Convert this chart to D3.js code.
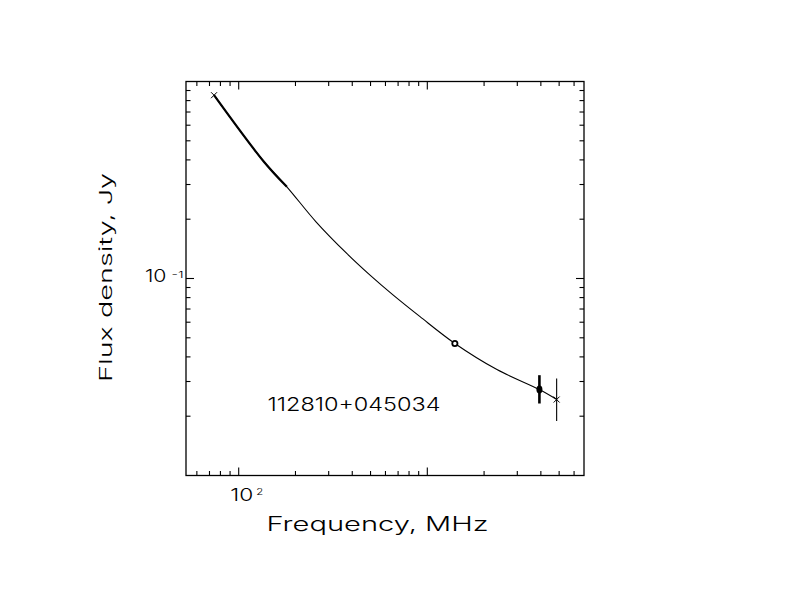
<!DOCTYPE html>
<html>
<head>
<meta charset="utf-8">
<script src="https://cdn.jsdelivr.net/npm/d3@7"></script>
<style>
  html, body { margin: 0; padding: 0; background: #fff; }
  text { font-family: "Inter", "DejaVu Sans", sans-serif; font-weight: 300; fill: #000; }
</style>
</head>
<body>
<svg id="chart" width="792" height="612"></svg>
<script>
// ---- data ----
const sourceName = "112810+045034";
const xLabel = "Frequency, MHz";
const yLabel = "Flux density, Jy";

// fitted spectrum curve, sampled along the drawn line
const curveFreq = [74, 135, 180, 257, 374, 497, 660, 915, 1400, 2340, 3930, 4850];
const curveFlux = [0.852, 0.395, 0.292, 0.194, 0.134, 0.104, 0.0823, 0.064, 0.0468, 0.0345, 0.0273, 0.0243];
// heavier part of the curve (low-frequency end)
const heavyMaxFreq = 180;

// measured points
const ptFreq = [74, 1400, 3930, 4850];
const ptFlux = [0.852, 0.0468, 0.0273, 0.0243];
const ptLo = [null, null, 0.0232, 0.0189];
const ptHi = [null, null, 0.0323, 0.0311];
const ptSymbol = ["cross", "ring", "filled", "cross"];

// ticks
const xMinorTicks = [60, 70, 80, 90, 200, 300, 400, 500, 600, 700, 800, 900, 2000, 3000, 4000, 5000, 6000];
const xMajorTicks = [100, 1000];
const xTickLabels = [{ v: 100, base: "10", exp: "2" }];
const yMinorTicks = [0.02, 0.03, 0.04, 0.05, 0.06, 0.07, 0.08, 0.09, 0.2, 0.3, 0.4, 0.5, 0.6, 0.7, 0.8, 0.9];
const yMajorTicks = [0.1];
const yTickLabels = [{ v: 0.1, base: "10", exp: "-1" }];

// ---- layout ----
const L = 186, R = 584, T = 81.5, B = 475.5;
const svg = d3.select("#chart");

const x = d3.scaleLog().domain([52.55, 6773]).range([L, R]);
const y = d3.scaleLog().domain([0.01, 1]).range([B, T]);

// frame
svg.append("rect").attr("x", L).attr("y", T).attr("width", R - L).attr("height", B - T)
  .attr("fill", "none").attr("stroke", "#000").attr("stroke-width", 1.3);

const majLen = 8, minLen = 4.5;
const tickG = svg.append("g").attr("stroke", "#000").attr("stroke-width", 1.1);
function xTicks(vals, len) {
  vals.forEach(v => {
    const px = x(v);
    tickG.append("line").attr("x1", px).attr("x2", px).attr("y1", B).attr("y2", B - len);
    tickG.append("line").attr("x1", px).attr("x2", px).attr("y1", T).attr("y2", T + len);
  });
}
function yTicks(vals, len) {
  vals.forEach(v => {
    const py = y(v);
    tickG.append("line").attr("x1", L).attr("x2", L + len).attr("y1", py).attr("y2", py);
    tickG.append("line").attr("x1", R).attr("x2", R - len).attr("y1", py).attr("y2", py);
  });
}
xTicks(xMinorTicks, minLen); xTicks(xMajorTicks, majLen);
yTicks(yMinorTicks, minLen); yTicks(yMajorTicks, majLen);

// tick labels
xTickLabels.forEach(d => {
  const px = x(d.v);
  svg.append("text").attr("x", px - 8.5).attr("y", 500.5).attr("font-size", 17)
    .attr("textLength", 23).attr("lengthAdjust", "spacingAndGlyphs").text(d.base);
  svg.append("text").attr("x", px + 17.5).attr("y", 494.5).attr("font-size", 9.5)
    .attr("textLength", 7).attr("lengthAdjust", "spacingAndGlyphs").text(d.exp);
});
yTickLabels.forEach(d => {
  const py = y(d.v);
  svg.append("text").attr("x", 145).attr("y", py + 3.5).attr("font-size", 17)
    .attr("textLength", 21.5).attr("lengthAdjust", "spacingAndGlyphs").text(d.base);
  svg.append("text").attr("x", 171.5).attr("y", py - 0.8).attr("font-size", 9.5)
    .attr("textLength", 12).attr("lengthAdjust", "spacingAndGlyphs").text(d.exp);
});

// axis titles
svg.append("text").attr("x", 266.5).attr("y", 530.5).attr("font-size", 19.5)
  .attr("textLength", 222).attr("lengthAdjust", "spacingAndGlyphs").text(xLabel);
svg.append("text").attr("transform", "translate(112,382) rotate(-90)").attr("font-size", 17.5)
  .attr("textLength", 209).attr("lengthAdjust", "spacingAndGlyphs").text(yLabel);

// source name
svg.append("text").attr("x", 267.5).attr("y", 410.5).attr("font-size", 18.5)
  .attr("textLength", 173).attr("lengthAdjust", "spacingAndGlyphs").text(sourceName);

// curve
const curveData = curveFreq.map((f, i) => ({ f, s: curveFlux[i] }));
const line = d3.line().x(d => x(d.f)).y(d => y(d.s)).curve(d3.curveCatmullRom.alpha(0.5));
svg.append("path").datum(curveData).attr("d", line)
  .attr("fill", "none").attr("stroke", "#000").attr("stroke-width", 1.1);
svg.append("path").datum(curveData.filter(d => d.f <= heavyMaxFreq)).attr("d", line)
  .attr("fill", "none").attr("stroke", "#000").attr("stroke-width", 2.2);

// points
const pts = ptFreq.map((f, i) => ({ f, s: ptFlux[i], lo: ptLo[i], hi: ptHi[i], sym: ptSymbol[i] }));
pts.forEach(d => {
  const px = x(d.f), py = y(d.s);
  if (d.lo != null) {
    svg.append("line").attr("x1", px).attr("x2", px).attr("y1", y(d.hi)).attr("y2", y(d.lo))
      .attr("stroke", "#000").attr("stroke-width", d.sym === "filled" ? 2.6 : 1.1);
  }
  if (d.sym === "cross") {
    const h = 3;
    svg.append("path").attr("d", `M${px - h},${py - h}L${px + h},${py + h}M${px - h},${py + h}L${px + h},${py - h}`)
      .attr("stroke", "#000").attr("stroke-width", 1);
  } else if (d.sym === "ring") {
    svg.append("circle").attr("cx", px).attr("cy", py).attr("r", 2.6)
      .attr("fill", "#fff").attr("stroke", "#000").attr("stroke-width", 1.8);
  } else if (d.sym === "filled") {
    svg.append("ellipse").attr("cx", px).attr("cy", py).attr("rx", 3).attr("ry", 4)
      .attr("fill", "#000");
  }
});
</script>
</body>
</html>
